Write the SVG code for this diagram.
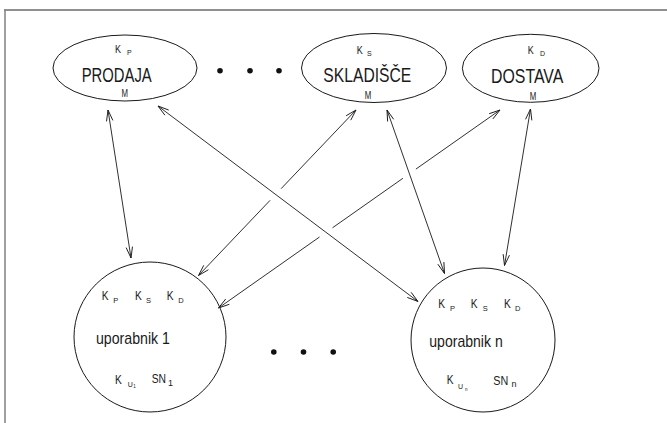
<svg xmlns="http://www.w3.org/2000/svg" width="667" height="423" viewBox="0 0 667 423">
  <style>
    .shape { fill: none; stroke: #1a1a1a; stroke-width: 1; }
    .link { fill: none; stroke: #1a1a1a; stroke-width: 0.9; }
    .t { font-family: "Liberation Sans", Arial, sans-serif; fill: #1a1a1a; }
    .big { font-size: 21px; }
    .k { font-size: 10.5px; }
    .kc { font-size: 12.5px; }
    .sub { font-size: 7px; }
    .subc { font-size: 7.5px; }
    .name { font-size: 17px; }
    .dot { fill: #111; }
  </style>
  <defs>
    <marker id="barb" viewBox="-12 -5 14 10" refX="0" refY="0" markerWidth="14" markerHeight="10" markerUnits="userSpaceOnUse" orient="auto-start-reverse">
      <path d="M-11,-3.2 L0,0 L-11,3.2" fill="none" stroke="#1a1a1a" stroke-width="0.9"/>
    </marker>
  </defs>

  <rect width="667" height="423" fill="#ffffff"/>

  <!-- frame edges -->
  <line x1="4" y1="10" x2="667" y2="10" stroke="#222" stroke-width="1.2"/>
  <line x1="5" y1="10" x2="5" y2="423" stroke="#888" stroke-width="1.6"/>

  <!-- connectors -->
  <g id="connectors">
    <line class="link" x1="108" y1="110" x2="131" y2="258" marker-start="url(#barb)" marker-end="url(#barb)"/>
    <line class="link" x1="158" y1="106" x2="418" y2="301.5" marker-start="url(#barb)" marker-end="url(#barb)"/>
    <!-- SKLADIŠČE to uporabnik 1, broken where it crosses -->
    <polyline class="link" points="356,110 281.1,188.7" marker-start="url(#barb)"/>
    <polyline class="link" points="270.1,200.3 198.5,275.5" marker-end="url(#barb)"/>
    <line class="link" x1="387" y1="110" x2="444.5" y2="273.5" marker-start="url(#barb)" marker-end="url(#barb)"/>
    <!-- DOSTAVA to uporabnik 1, broken at two crossings -->
    <polyline class="link" points="500,110 415.9,169.1" marker-start="url(#barb)"/>
    <polyline class="link" points="402.9,178.3 332.5,227.8"/>
    <polyline class="link" points="319.5,237 218.5,308" marker-end="url(#barb)"/>
    <line class="link" x1="530.5" y1="109" x2="504.5" y2="265.5" marker-start="url(#barb)" marker-end="url(#barb)"/>
  </g>

  <!-- top services -->
  <g id="prodaja">
    <ellipse class="shape" cx="125" cy="68" rx="72" ry="33"/>
    <text class="t k" x="115" y="52.5" textLength="6" lengthAdjust="spacingAndGlyphs">K</text>
    <text class="t sub" x="127" y="54.5">P</text>
    <text class="t big" x="81.7" y="82" textLength="70" lengthAdjust="spacingAndGlyphs">PRODAJA</text>
    <text class="t k" x="121.5" y="96.5" textLength="6.5" lengthAdjust="spacingAndGlyphs">M</text>
  </g>

  <g id="skladisce">
    <ellipse class="shape" cx="374" cy="68" rx="72.5" ry="34.5"/>
    <text class="t k" x="356.7" y="53.5" textLength="6" lengthAdjust="spacingAndGlyphs">K</text>
    <text class="t sub" x="367" y="55.5">S</text>
    <text class="t big" x="323.3" y="82" textLength="88" lengthAdjust="spacingAndGlyphs">SKLADIŠČE</text>
    <text class="t k" x="364.7" y="99" textLength="6.5" lengthAdjust="spacingAndGlyphs">M</text>
  </g>

  <g id="dostava">
    <ellipse class="shape" cx="530.7" cy="68.3" rx="68.3" ry="34"/>
    <text class="t k" x="527.7" y="54" textLength="6" lengthAdjust="spacingAndGlyphs">K</text>
    <text class="t sub" x="540" y="56">D</text>
    <text class="t big" x="491" y="83" textLength="72.3" lengthAdjust="spacingAndGlyphs">DOSTAVA</text>
    <text class="t k" x="529.7" y="99.5" textLength="6.5" lengthAdjust="spacingAndGlyphs">M</text>
  </g>

  <g id="dots-top">
    <circle class="dot" cx="220" cy="70.7" r="2.8"/>
    <circle class="dot" cx="250" cy="70.7" r="2.8"/>
    <circle class="dot" cx="279" cy="70.7" r="2.8"/>
  </g>

  <!-- users -->
  <g id="uporabnik-1">
    <ellipse class="shape" cx="150" cy="337" rx="76" ry="75"/>
    <text class="t kc" x="101.7" y="300" textLength="6.8" lengthAdjust="spacingAndGlyphs">K</text>
    <text class="t subc" x="113.3" y="303">P</text>
    <text class="t kc" x="135" y="300" textLength="6.8" lengthAdjust="spacingAndGlyphs">K</text>
    <text class="t subc" x="146" y="303">S</text>
    <text class="t kc" x="166.7" y="300" textLength="6.8" lengthAdjust="spacingAndGlyphs">K</text>
    <text class="t subc" x="178.3" y="303">D</text>
    <text class="t name" x="96" y="343.5" textLength="74" lengthAdjust="spacingAndGlyphs">uporabnik 1</text>
    <text class="t kc" x="115" y="384" textLength="6.8" lengthAdjust="spacingAndGlyphs">K</text>
    <text class="t sub" x="127.8" y="387">U</text>
    <text class="t" x="133.3" y="388" font-size="4.5">1</text>
    <text class="t kc" x="151.7" y="383" textLength="14.3" lengthAdjust="spacingAndGlyphs">SN</text>
    <text class="t" x="168" y="385.5" font-size="9">1</text>
  </g>

  <g id="uporabnik-n">
    <ellipse class="shape" cx="483" cy="340" rx="72" ry="72"/>
    <text class="t kc" x="438.3" y="308.3" textLength="6.8" lengthAdjust="spacingAndGlyphs">K</text>
    <text class="t subc" x="450" y="311">P</text>
    <text class="t kc" x="470.7" y="308.3" textLength="6.8" lengthAdjust="spacingAndGlyphs">K</text>
    <text class="t subc" x="482.7" y="311">S</text>
    <text class="t kc" x="504" y="308.3" textLength="6.8" lengthAdjust="spacingAndGlyphs">K</text>
    <text class="t subc" x="515" y="311">D</text>
    <text class="t name" x="429.3" y="347.3" textLength="73.4" lengthAdjust="spacingAndGlyphs">uporabnik n</text>
    <text class="t kc" x="446.7" y="384" textLength="6.8" lengthAdjust="spacingAndGlyphs">K</text>
    <text class="t sub" x="458" y="389">U</text>
    <text class="t" x="465" y="390.5" font-size="4.5">n</text>
    <text class="t kc" x="493.3" y="385" textLength="15" lengthAdjust="spacingAndGlyphs">SN</text>
    <text class="t" x="511.5" y="387" font-size="9">n</text>
  </g>

  <g id="dots-bottom">
    <circle class="dot" cx="273.8" cy="352" r="2.8"/>
    <circle class="dot" cx="303.5" cy="352" r="2.8"/>
    <circle class="dot" cx="333.2" cy="352" r="2.8"/>
  </g>
</svg>
